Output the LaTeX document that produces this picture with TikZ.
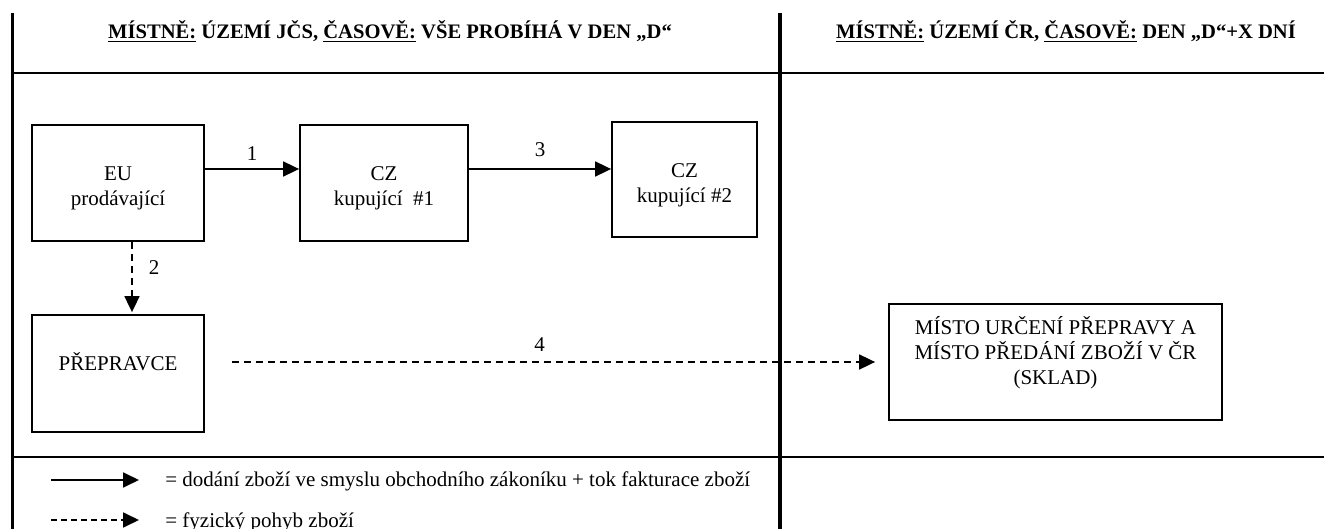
\documentclass[tikz,border=0pt]{standalone}
\usepackage{fontspec}
\setmainfont{Liberation Serif}
\usetikzlibrary{arrows.meta}

\begin{document}
\begin{tikzpicture}[x=0.5pt,y=-0.5pt]
		\tikzstyle{every node}+=[inner sep=0pt]
		\tikzstyle{entity}=[draw,line width=0.9pt,align=center,font=\fontsize{10.5}{12.5}\selectfont,text height=26pt,text depth=3pt]
		\tikzstyle{colhead}=[font=\fontsize{10.3}{12}\selectfont\bfseries,anchor=base]
		\tikzstyle{numlabel}=[font=\fontsize{10.5}{12.5}\selectfont]
		\tikzstyle{legtext}=[font=\fontsize{10.5}{12.5}\selectfont,anchor=base west]
		\tikzstyle{flowline}=[line width=0.9pt,-{Triangle[length=8pt,width=7.5pt]}]
		\tikzstyle{goodsline}=[flowline,dash pattern=on 3.5pt off 2.5pt]
		\tikzstyle{frame}=[line width=1.8pt]
		\tikzstyle{sepline}=[line width=0.9pt]
		\useasboundingbox (0,0) rectangle (1324,529);
		\draw [frame] (12.5,13) -- (12.5,529);
		\draw [frame] (780,13) -- (780,529);
		\draw [sepline] (12.5,73) -- (1324,73);
		\draw [sepline] (12.5,457) -- (1324,457);
		\node [colhead] (headjcs) at (390,38.5) {\underline{MÍSTNĚ:} ÚZEMÍ JČS, \underline{ČASOVĚ:} VŠE PROBÍHÁ V DEN „D“};
		\node [colhead] (headcr) at (1066,38.5) {\underline{MÍSTNĚ:} ÚZEMÍ ČR, \underline{ČASOVĚ:} DEN „D“+X DNÍ};
		\node [entity,minimum width=86pt,minimum height=58pt] (eu) at (118,183) {EU\\prodávající};
		\node [entity,minimum width=84pt,minimum height=58pt] (cz1) at (384,183) {CZ\\kupující\ \ \#1};
		\node [entity,minimum width=72.5pt,minimum height=57.5pt] (cz2) at (684.5,179.5) {CZ\\kupující \#2};
		\node [entity,minimum width=86pt,minimum height=58.5pt,text height=7pt,text depth=9.6pt] (prep) at (118,373.5) {PŘEPRAVCE};
		\node [entity,minimum width=166.5pt,minimum height=58pt,text height=34pt,text depth=11pt] (misto) at (1055.5,362) {MÍSTO URČENÍ PŘEPRAVY A\\MÍSTO PŘEDÁNÍ ZBOŽÍ V ČR\\(SKLAD)};
		\draw [flowline] ([yshift=7pt]eu.east) -- ([yshift=7pt]eu.east -| cz1.west) node [numlabel,midway,above=4pt] (n1) {1};
		\draw [flowline] ([yshift=7pt]cz1.east) -- ([yshift=7pt]cz1.east -| cz2.west) node [numlabel,midway,above=5.5pt] (n3) {3};
		\draw [goodsline,shorten >=1pt] ([xshift=7pt]eu.south) -- ([xshift=7pt]eu.south |- prep.north) node [numlabel,pos=0.35,right=8pt] (n2) {2};
		\draw [goodsline,shorten <=13.5pt,shorten >=6.5pt] (prep.east |- misto.west) -- (misto.west) node [numlabel,pos=0.49,above=5pt] (n4) {4};
		\coordinate (s0) at (51,480);
		\coordinate (s1) at (139,480);
		\coordinate (d0) at (51,520);
		\coordinate (d1) at (139,520);
		\draw [flowline] (s0) -- (s1);
		\draw [goodsline,dash pattern=on 3pt off 2pt] (d0) -- (d1);
		\node [legtext] (legdeal) at (165,487) {= dodání zboží ve smyslu obchodního zákoníku + tok fakturace zboží};
		\node [legtext] (leggoods) at (165,527) {= fyzický pohyb zboží};
\end{tikzpicture}
\end{document}
